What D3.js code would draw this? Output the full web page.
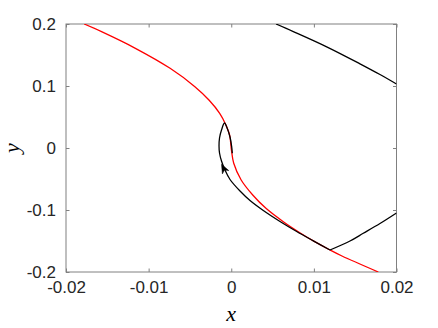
<!DOCTYPE html>
<html>
<head>
<meta charset="utf-8">
<script src="https://cdn.jsdelivr.net/npm/d3@7"></script>
<style>
  html, body { margin: 0; padding: 0; background: #fff; }
</style>
</head>
<body>
<div id="diagram"></div>
<script>
// data
const xTicks = [-0.02, -0.01, 0, 0.01, 0.02];
const yTicks = [-0.2, -0.1, 0, 0.1, 0.2];
const xTickLabels = ['-0.02', '-0.01', '0', '0.01', '0.02'];
const yTickLabels = ['-0.2', '-0.1', '0', '0.1', '0.2'];

// red curve
const redX = [-0.0178, -0.0157, -0.0116, -0.0074, -0.0044, -0.0027, -0.0014, -0.0007, -0.0002, 0.00002, 0.0003, 0.0012, 0.0026, 0.0042, 0.0063, 0.0083, 0.0101, 0.01195, 0.0134, 0.0178];
const redY = [0.2, 0.1876, 0.1608, 0.1285, 0.0989, 0.0774, 0.0560, 0.0387, 0.0210, -0.0032, -0.0247, -0.0516, -0.0758, -0.0973, -0.1189, -0.1366, -0.1511, -0.1645, -0.1742, -0.2];

// black trajectory, top right
const topX = [0.00542, 0.00751, 0.01155, 0.01558, 0.01800, 0.02];
const topY = [0.2, 0.1878, 0.1632, 0.1358, 0.1185, 0.1032];

// black trajectory, lower right
const lowX = [0.01195, 0.01437, 0.01598, 0.01800, 0.02];
const lowY = [-0.1645, -0.15, -0.1376, -0.1218, -0.1048];

// black trajectory, from the corner up into the loop
const loopX = [0.01195, 0.00993, 0.00792, 0.00590, 0.00388, 0.00227, 0.00106, -0.00015, -0.00076, -0.00118, -0.00142, -0.00148, -0.00142, -0.00118, -0.00082, -0.00055, -0.00015, 0.00005, 0.00013];
const loopY = [-0.1645, -0.1497, -0.1347, -0.1185, -0.1008, -0.0847, -0.0694, -0.0508, -0.0355, -0.0210, -0.0081, 0.0032, 0.0161, 0.0290, 0.0403, 0.0339, 0.0177, 0.0021, -0.0085];

// arrow on the loop trajectory
const arrowTail = [-0.00065, -0.0400];
const arrowTip = [-0.00118, -0.0262];

!(function () {
  'use strict';
  // - - - - - - - - - -
  let
    svg = undefined,
    plot = undefined,
    xScale = undefined,
    yScale = undefined,
    line = undefined,
    canvas = undefined,

    setCanvas = undefined,
    setScales = undefined,
    setAxes = undefined,
    setCurves = undefined,
    setArrow = undefined,
    setLabels = undefined;

  canvas = {
    width: 438,
    height: 328,
    padding: { top: 24, right: 41.5, bottom: 56, left: 66 }
  };

  setCanvas = function (contextSelector) {
    svg = d3.select(contextSelector)
      .append('svg')
      .attr('width', canvas.width)
      .attr('height', canvas.height)
      .attr('viewBox', '0 0 ' + canvas.width + ' ' + canvas.height);

    svg.append('defs')
      .append('clipPath')
      .attr('id', 'plot-clip')
      .append('rect')
      .attr('x', canvas.padding.left)
      .attr('y', canvas.padding.top)
      .attr('width', canvas.width - canvas.padding.left - canvas.padding.right)
      .attr('height', canvas.height - canvas.padding.top - canvas.padding.bottom);
  };

  setScales = function () {
    xScale = d3.scaleLinear()
      .domain([-0.02, 0.02])
      .range([canvas.padding.left, canvas.width - canvas.padding.right]);
    yScale = d3.scaleLinear()
      .domain([-0.2, 0.2])
      .range([canvas.height - canvas.padding.bottom, canvas.padding.top]);
    line = d3.line()
      .x(d => xScale(d[0]))
      .y(d => yScale(d[1]))
      .curve(d3.curveCatmullRom.alpha(0.5));
  };

  setAxes = function () {
    let
      tickLen = 3.5,
      x0 = canvas.padding.left,
      x1 = canvas.width - canvas.padding.right,
      y0 = canvas.padding.top,
      y1 = canvas.height - canvas.padding.bottom,
      axisColor = '#808080',
      fmtX = (d, i) => xTickLabels[i],
      fmtY = (d, i) => yTickLabels[i];

    // bottom
    svg.append('g')
      .attr('transform', 'translate(0, ' + y1 + ')')
      .call(d3.axisBottom(xScale).tickValues(xTicks).tickFormat(fmtX).tickSizeInner(-tickLen).tickSizeOuter(0).tickPadding(9))
      .call(g => g.select('.domain').remove());
    // top
    svg.append('g')
      .attr('transform', 'translate(0, ' + y0 + ')')
      .call(d3.axisTop(xScale).tickValues(xTicks).tickFormat('').tickSizeInner(-tickLen).tickSizeOuter(0))
      .call(g => g.select('.domain').remove());
    // left
    svg.append('g')
      .attr('transform', 'translate(' + x0 + ', 0)')
      .call(d3.axisLeft(yScale).tickValues(yTicks).tickFormat(fmtY).tickSizeInner(-tickLen).tickSizeOuter(0).tickPadding(10))
      .call(g => g.select('.domain').remove());
    // right
    svg.append('g')
      .attr('transform', 'translate(' + x1 + ', 0)')
      .call(d3.axisRight(yScale).tickValues(yTicks).tickFormat('').tickSizeInner(-tickLen).tickSizeOuter(0))
      .call(g => g.select('.domain').remove());

    svg.selectAll('.tick line')
      .attr('stroke', axisColor);
    svg.selectAll('.tick text')
      .attr('fill', '#262626')
      .style('font-family', '"Liberation Sans", Arial, sans-serif')
      .style('font-size', '17px');

    // box
    svg.append('rect')
      .attr('x', x0)
      .attr('y', y0)
      .attr('width', x1 - x0)
      .attr('height', y1 - y0)
      .attr('fill', 'none')
      .attr('stroke', axisColor)
      .attr('stroke-width', 1);
  };

  setCurves = function () {
    let zip = (xs, ys) => xs.map((x, i) => [x, ys[i]]);

    plot = svg.append('g')
      .attr('clip-path', 'url(#plot-clip)')
      .attr('fill', 'none')
      .attr('stroke-width', 1.3)
      .attr('stroke-linejoin', 'round');

    plot.append('path')
      .attr('d', line(zip(redX, redY)))
      .attr('stroke', '#ff0000');

    plot.append('path')
      .attr('d', line(zip(topX, topY)))
      .attr('stroke', '#000');

    plot.append('path')
      .attr('d', line(zip(lowX, lowY)))
      .attr('stroke', '#000');

    plot.append('path')
      .attr('d', line(zip(loopX, loopY)))
      .attr('stroke', '#000');
  };

  setArrow = function () {
    let
      tx = xScale(arrowTip[0]),
      ty = yScale(arrowTip[1]),
      bx = xScale(arrowTail[0]),
      by = yScale(arrowTail[1]),
      len = Math.hypot(tx - bx, ty - by),
      ux = (tx - bx) / len,
      uy = (ty - by) / len,
      px = -uy,
      py = ux,
      headLen = 9,
      headHalf = 3.6,
      notch = 6.5,
      pts = [
        [tx, ty],
        [tx - ux * headLen + px * headHalf, ty - uy * headLen + py * headHalf],
        [tx - ux * notch, ty - uy * notch],
        [tx - ux * headLen - px * headHalf, ty - uy * headLen - py * headHalf]
      ];

    svg.append('path')
      .attr('d', 'M' + pts.map(p => p[0] + ',' + p[1]).join('L') + 'Z')
      .attr('fill', '#000')
      .attr('stroke', '#000')
      .attr('stroke-width', 0.5);
  };

  setLabels = function () {
    svg.append('text')
      .attr('x', xScale(0))
      .attr('y', 321)
      .attr('text-anchor', 'middle')
      .style('font-family', '"Liberation Serif", "DejaVu Serif", serif')
      .style('font-style', 'italic')
      .style('font-size', '22px')
      .text('x');

    svg.append('text')
      .attr('transform', 'translate(19, ' + yScale(0) + ') rotate(-90)')
      .attr('text-anchor', 'middle')
      .style('font-family', '"Liberation Serif", "DejaVu Serif", serif')
      .style('font-style', 'italic')
      .style('font-size', '22px')
      .text('y');
  };

  // control
  setCanvas('#diagram');
  setScales();
  setAxes();
  setCurves();
  setArrow();
  setLabels();
  // - - - - - - - - - -
}());
</script>
</body>
</html>
